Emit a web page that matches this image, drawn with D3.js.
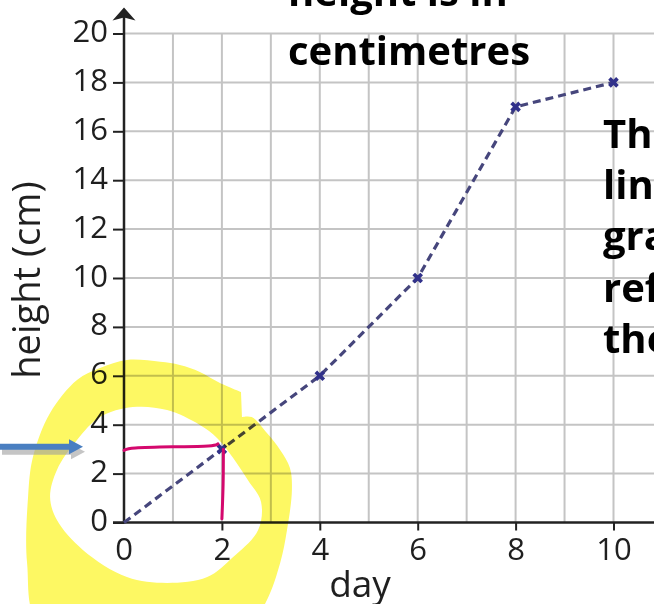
<!DOCTYPE html>
<html>
<head>
<meta charset="utf-8">
<script src="https://cdn.jsdelivr.net/npm/d3@7"></script>
<style>
  body { margin: 0; background: #fff; }
  svg { display: block; }
</style>
</head>
<body>
<script>
// plant height by day
const days = [0, 2, 4, 6, 8, 10];
const heights = [0, 3, 6, 10, 17, 18];

const xTicks = [0, 2, 4, 6, 8, 10];
const yTicks = [0, 2, 4, 6, 8, 10, 12, 14, 16, 18, 20];
const xGrid = [1, 2, 3, 4, 5, 6, 7, 8, 9, 10];
const yGrid = [2, 4, 6, 8, 10, 12, 14, 16, 18, 20];

const noteTop = ['height is in', 'centimetres'];
const noteRight = ['The', 'line', 'graph', 'refers to', 'the'];

// hand-drawn read-off at day 2 (in chart units)
const guideAcross = [[0, 2.95], [0.1, 3.06], [1.0, 3.1], [1.85, 3.12], [1.92, 3.22]];
const guideDown = [[2.03, 3.0], [2.03, 1.6], [2.0, 0.15]];

// highlighter ring (in chart units); outer starts at the step on its top right
const ringOuter = [[2.41, 4.31], [2.61, 4.31], [2.92, 3.66], [3.19, 2.97], [3.39, 2.23],
  [3.43, 1.33], [3.33, -0.31], [3.19, -1.66], [2.92, -3.17], [2.57, -4.19], [0.53, -4.81],
  [-1.72, -4.19], [-1.98, -1.66], [-1.96, 1.04], [-1.86, 2.68], [-1.51, 4.48], [-0.96, 5.83],
  [-0.49, 6.32], [0.06, 6.65], [0.74, 6.57], [1.14, 6.44], [1.55, 6.16], [1.96, 5.71],
  [2.39, 5.34]];
const ringInner = [[-1.51, 1.04], [-1.37, 2.15], [-0.96, 3.37], [-0.49, 4.31], [0.18, 4.72],
  [0.88, 4.60], [1.55, 3.99], [1.90, 3.46], [2.23, 2.64], [2.53, 1.74], [2.80, 0.84],
  [2.74, -0.31], [2.23, -1.41], [1.70, -2.23], [0.88, -2.47], [0.06, -2.23], [-0.84, -1.12],
  [-1.37, 0.10]];

const width = 654;
const height = 604;
const font = '"Open Sans", sans-serif';
const ink = '#1f1f1f';

const svg = d3.select('body').append('svg')
  .attr('width', width)
  .attr('height', height);

const x = d3.scaleLinear().domain([0, 10]).range([124, 613.5]);
const y = d3.scaleLinear().domain([0, 20]).range([522.5, 33.5]);

// grid
svg.append('g')
  .selectAll('line')
  .data(xGrid)
  .enter().append('line')
    .attr('x1', d => x(d)).attr('x2', d => x(d))
    .attr('y1', y(0)).attr('y2', y(20))
    .attr('stroke', '#c4c4c4')
    .attr('stroke-width', 2);

svg.append('g')
  .selectAll('line')
  .data(yGrid)
  .enter().append('line')
    .attr('x1', x(0)).attr('x2', width)
    .attr('y1', d => y(d)).attr('y2', d => y(d))
    .attr('stroke', '#c4c4c4')
    .attr('stroke-width', 2);

// axes
const styleAxis = g => {
  g.select('.domain').remove();
  g.selectAll('.tick line').attr('stroke', '#222').attr('stroke-width', 2);
  g.selectAll('.tick text')
    .attr('font-family', font)
    .attr('font-size', 31)
    .attr('fill', ink);
};

svg.append('g')
  .attr('transform', `translate(${x(0)},0)`)
  .call(d3.axisLeft(y).tickValues(yTicks).tickSize(11).tickPadding(5))
  .call(styleAxis)
  .call(g => g.selectAll('.tick text').attr('dy', '0.26em'));

svg.append('g')
  .attr('transform', `translate(0,${y(0)})`)
  .call(d3.axisBottom(x).tickValues(xTicks.filter(d => d > 0)).tickSize(8).tickPadding(7.5))
  .call(styleAxis);

svg.append('text')
  .attr('x', x(0)).attr('y', y(0) + 37.5)
  .attr('text-anchor', 'middle')
  .attr('font-family', font).attr('font-size', 31).attr('fill', ink)
  .text(xTicks[0]);

svg.append('line')
  .attr('x1', x(0)).attr('x2', x(0))
  .attr('y1', y(0) + 1).attr('y2', y(20) - 18)
  .attr('stroke', '#222').attr('stroke-width', 2.5);

svg.append('path')
  .attr('d', `M${x(0)},${y(20) - 26}L${x(0) + 11.5},${y(20) - 13}L${x(0)},${y(20) - 16}L${x(0) - 11.5},${y(20) - 13}Z`)
  .attr('fill', '#222');

svg.append('line')
  .attr('x1', x(0) - 11).attr('x2', width)
  .attr('y1', y(0)).attr('y2', y(0))
  .attr('stroke', '#222').attr('stroke-width', 2.5);

svg.append('text')
  .attr('x', 360).attr('y', 597)
  .attr('text-anchor', 'middle')
  .attr('font-family', font).attr('font-size', 37).attr('fill', ink)
  .text('day');

svg.append('text')
  .attr('transform', 'translate(40,280) rotate(-90)')
  .attr('text-anchor', 'middle')
  .attr('font-family', font).attr('font-size', 38).attr('fill', ink)
  .text('height (cm)');

// data line
const points = days.map((d, i) => [d, heights[i]]);

svg.append('path')
  .datum(points)
  .attr('d', d3.line().x(d => x(d[0])).y(d => y(d[1])))
  .attr('fill', 'none')
  .attr('stroke', '#46467c')
  .attr('stroke-width', 3.2)
  .attr('stroke-dasharray', '8,5');

svg.append('g')
  .selectAll('path')
  .data(points.filter(d => d[0] > 0))
  .enter().append('path')
    .attr('transform', d => `translate(${x(d[0])},${y(d[1])}) rotate(45)`)
    .attr('d', d3.symbol(d3.symbolCross, 70))
    .attr('fill', '#31318a');

// read-off guide
const guide = d3.line().x(d => x(d[0])).y(d => y(d[1])).curve(d3.curveBasis);
[guideAcross, guideDown].forEach(g => {
  svg.append('path')
    .attr('d', guide(g))
    .attr('fill', 'none')
    .attr('stroke', '#d4086d')
    .attr('stroke-width', 3)
    .attr('stroke-linecap', 'round');
});

// highlighter: outer edge open curve closed by a straight cut, inner edge smooth
const edge = d3.line().x(d => x(d[0])).y(d => y(d[1])).curve(d3.curveCatmullRom.alpha(0.5));
const hole = d3.line().x(d => x(d[0])).y(d => y(d[1])).curve(d3.curveCatmullRomClosed.alpha(0.5));
svg.append('path')
  .attr('d', edge(ringOuter) + 'Z' + hole(ringInner))
  .attr('fill', '#fdf863')
  .attr('fill-rule', 'evenodd')
  .style('mix-blend-mode', 'multiply');

// blue arrow pointing at 3
const ay = y(3.1);
const arrowPath = `M0,${ay - 3}L69,${ay - 3}L69,${ay - 7.5}L83,${ay}L69,${ay + 7.5}L69,${ay + 3}L0,${ay + 3}Z`;
svg.append('path')
  .attr('d', arrowPath)
  .attr('transform', 'translate(2,5)')
  .attr('fill', '#9e9e9e')
  .attr('opacity', 0.6);
svg.append('path')
  .attr('d', arrowPath)
  .attr('fill', '#4a7fc1');

// notes
svg.append('g')
  .selectAll('text')
  .data(noteTop)
  .enter().append('text')
    .attr('x', 288)
    .attr('y', (d, i) => 6 + i * 59)
    .attr('font-family', font).attr('font-weight', 700).attr('font-size', 40)
    .attr('fill', '#000')
    .text(d => d);

svg.append('g')
  .selectAll('text')
  .data(noteRight)
  .enter().append('text')
    .attr('x', 603)
    .attr('y', (d, i) => 148 + i * 51.2)
    .attr('font-family', font).attr('font-weight', 700).attr('font-size', 40)
    .attr('fill', '#000')
    .text(d => d);
</script>
</body>
</html>
